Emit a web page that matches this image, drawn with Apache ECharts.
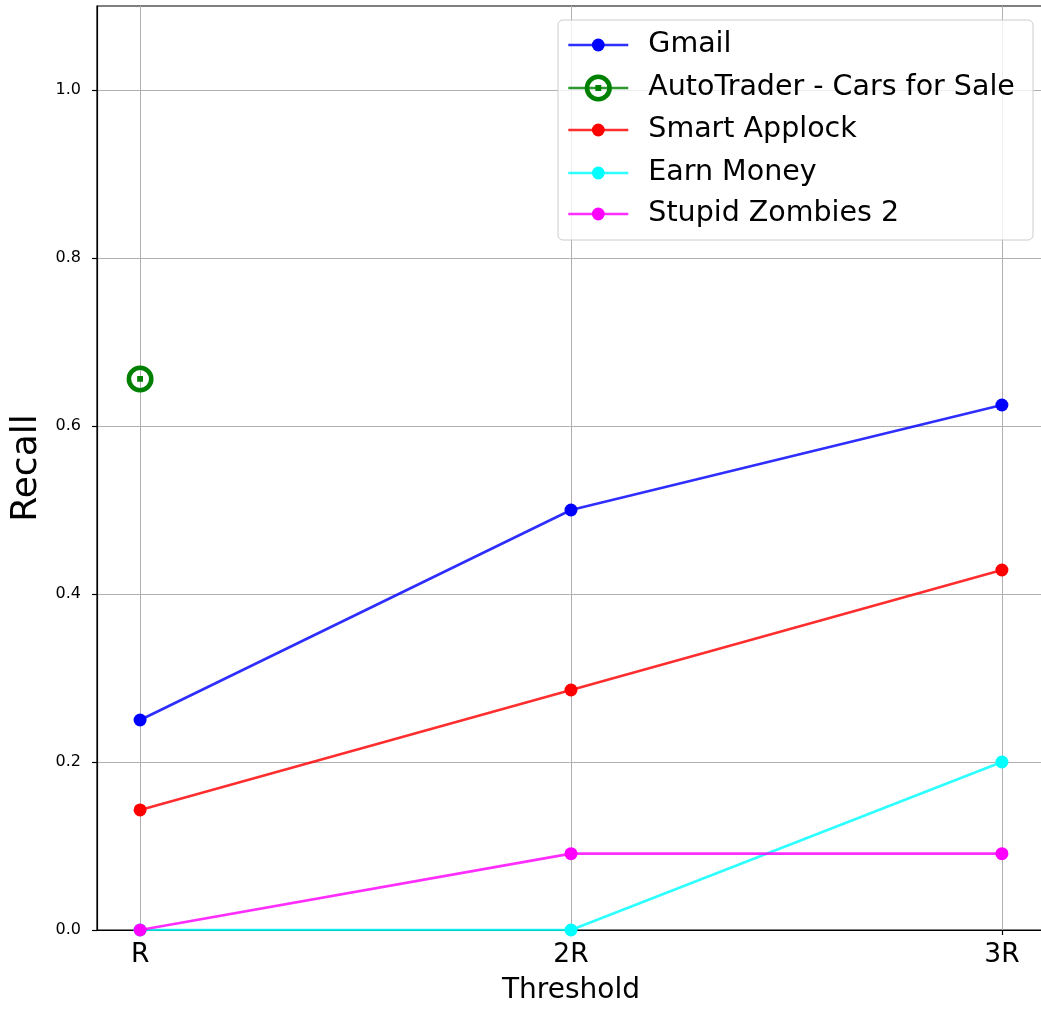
<!DOCTYPE html>
<html>
<head>
<meta charset="utf-8">
<script src="https://cdn.jsdelivr.net/npm/echarts@6/dist/echarts.min.js"></script>
<style>
html,body{margin:0;padding:0;background:#fff;}
#chart{width:1041px;height:1009px;}
</style>
</head>
<body>
<div id="chart"></div>
<script>
// ---- data ----
const xTickLabels = ['R', '2R', '3R'];
const xPositions = [0, 1, 2];
const yTickValues = [0, 0.2, 0.4, 0.6, 0.8, 1.0];
const seriesNames = ['Gmail', 'AutoTrader - Cars for Sale', 'Smart Applock', 'Earn Money', 'Stupid Zombies 2'];
const gmail = [0.25, 0.5, 0.625];
const autoTrader = [0.656];
const smartApplock = [0.1429, 0.2857, 0.4286];
const earnMoney = [0, 0, 0.2];
const stupidZombies = [0, 0.0909, 0.0909];

const seriesValues = [gmail, autoTrader, smartApplock, earnMoney, stupidZombies];
const seriesColors = ['#0000ff', '#008000', '#ff0000', '#00ffff', '#ff00ff'];

const ringPath = 'path://M0,-13A13,13 0 1,1 0,13A13,13 0 1,1 0,-13Z' +
  'M0,-8.6A8.6,8.6 0 1,0 0,8.6A8.6,8.6 0 1,0 0,-8.6Z' +
  'M-2.8,-2.8L2.8,-2.8L2.8,2.8L-2.8,2.8Z';

const fontFamily = '"DejaVu Sans", sans-serif';
const lineW = 2.6;

const series = seriesNames.map((name, i) => {
  const isRing = i === 1;
  return {
    name: name,
    type: 'line',
    data: seriesValues[i].map((v, j) => [xPositions[j], v]),
    symbol: isRing ? ringPath : 'circle',
    symbolSize: isRing ? 27 : 13,
    showAllSymbol: true,
    clip: true,
    color: seriesColors[i],
    itemStyle: { color: seriesColors[i], opacity: 1 },
    lineStyle: { color: seriesColors[i], width: lineW, opacity: 0.82 },
    emphasis: { disabled: true },
    animation: false,
    z: 2 + i * 0.01
  };
});

const rowCenters = [45, 88, 130, 173, 214];
const legends = seriesNames.map((name, i) => ({
  data: [name],
  left: 567,
  top: rowCenters[i] - 17,
  orient: 'vertical',
  padding: 0,
  itemWidth: 60,
  itemHeight: i === 1 ? 34 : 16,
  selectedMode: false,
  z: 5,
  lineStyle: { width: lineW, opacity: 0.82 },
  textStyle: {
    fontFamily: fontFamily,
    fontSize: 28.5,
    color: '#000',
    lineHeight: 34,
    padding: [0, 0, 0, 15]
  }
}));

const chart = echarts.init(document.getElementById('chart'), null, { renderer: 'canvas' });
chart.setOption({
  backgroundColor: '#fff',
  animation: false,
  grid: {
    left: 97, right: -4, top: 6, bottom: 79,
    containLabel: false,
    outerBoundsMode: 'none',
    show: true, borderColor: '#000', borderWidth: 1.2, backgroundColor: 'transparent'
  },
  graphic: [{
    type: 'rect',
    shape: { x: 558, y: 20, width: 475, height: 220, r: 5 },
    style: { fill: 'rgba(255,255,255,0.8)', stroke: '#cccccc', lineWidth: 1 },
    z: 4
  }],
  legend: legends,
  xAxis: {
    type: 'value',
    min: -0.1,
    max: 2.1,
    name: 'Threshold',
    nameLocation: 'middle',
    nameGap: 47,
    nameTextStyle: { fontFamily: fontFamily, fontSize: 28, color: '#000' },
    axisLine: { show: true, onZero: false, lineStyle: { color: '#000', width: 1.2 } },
    axisTick: { show: true, customValues: xPositions, length: 5, lineStyle: { color: '#000', width: 1.2 } },
    axisLabel: {
      customValues: xPositions,
      formatter: (v) => xTickLabels[Math.round(v)],
      fontFamily: fontFamily, fontSize: 26.5, color: '#000', margin: 12
    },
    splitLine: { show: true, lineStyle: { color: '#b0b0b0', width: 1 } }
  },
  yAxis: {
    type: 'value',
    min: 0,
    max: 1.1,
    name: 'Recall',
    nameLocation: 'middle',
    nameGap: 52,
    nameRotate: 90,
    nameTextStyle: { fontFamily: fontFamily, fontSize: 36, color: '#000' },
    axisLine: { show: true, onZero: false, lineStyle: { color: '#000', width: 1.2 } },
    axisTick: { show: true, customValues: yTickValues, length: 5, lineStyle: { color: '#000', width: 1.2 } },
    axisLabel: {
      customValues: yTickValues,
      formatter: (v) => v.toFixed(1),
      fontFamily: fontFamily, fontSize: 16, color: '#000', margin: 16
    },
    splitLine: { show: true, lineStyle: { color: '#b0b0b0', width: 1 } }
  },
  series: series
});
</script>
</body>
</html>
